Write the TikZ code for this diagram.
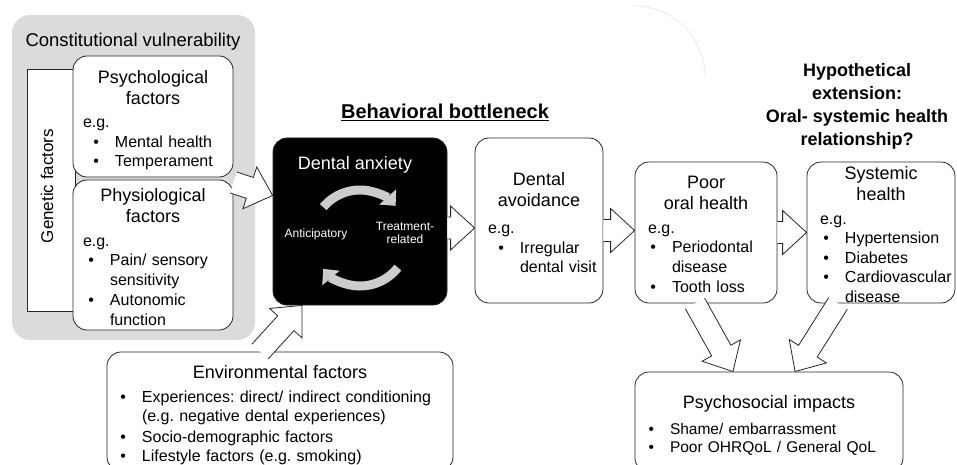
\documentclass[tikz,border=0pt]{standalone}
\usepackage{fontspec}
\setmainfont{Liberation Sans}
\usetikzlibrary{arrows.meta,calc}
\frenchspacing

\newcommand{\hd}[1]{{\centering\fontsize{18}{21}\selectfont #1\par}\vspace{4pt}}
\newcommand{\itm}[2][24pt]{\par\noindent\makebox[#1][r]{\textbullet\hspace{16pt}}\begin{tabular}[t]{@{}l@{}}#2\end{tabular}}
\newcommand{\boxtail}{\par\kern-10pt}
\newcommand{\fatarrow}[2]{%
  \draw[fatarr] let \p1=($(#2)-(#1)$), \n1={atan2(\y1,\x1)}, \n2={veclen(\x1,\y1)} in
    [shift={(#1)}, rotate=\n1] (0pt,-11pt) -- (\n2-24pt,-11pt) -- (\n2-24pt,-22pt) -- (\n2,0pt)
    -- (\n2-24pt,22pt) -- (\n2-24pt,11pt) -- (0pt,11pt);}

\begin{document}
\begin{tikzpicture}[x=1pt, y=-1pt,
    box/.style={draw=black!85, rounded corners=14pt, line width=0.8pt, fill=white, align=left,
      inner xsep=10pt, inner ysep=0pt, font=\fontsize{16}{19.5}\selectfont},
    txtbox/.style={box, execute at end node=\boxtail},
    fatarr/.style={draw=black!85, line width=0.8pt, fill=white, line join=miter},
    cycarr/.style={line width=9pt, draw=black!20, -{Triangle[length=12pt,width=22pt]}},
    wtext/.style={text=white, inner sep=0pt}]
    \useasboundingbox (0,0) rectangle (957,465);
    \draw[black!7, line width=1pt] (634,6) arc[start angle=90, end angle=0, radius=71pt];
    \node[fill=black!14, rounded corners=18pt, minimum width=243pt, minimum height=325pt] (cv) at (133.5,177.5) {};
    \node[font=\fontsize{18.5}{21}\selectfont] (cvt) at (133,42) {Constitutional vulnerability};
    \node[draw=black!85, fill=white, line width=0.8pt, minimum width=48pt, minimum height=242pt] (gen) at (51,190) {};
    \node[rotate=90, font=\fontsize{17}{20}\selectfont] (gent) at (47,186) {Genetic factors};
    \node[txtbox, minimum width=160pt, minimum height=121pt, text width=140pt] (psy) at (153,116.5)
        {\hd{Psychological\\factors}e.g.\itm[32pt]{Mental health}\itm[32pt]{Temperament}};
    \node[txtbox, minimum width=160pt, minimum height=150pt, text width=140pt] (phy) at (153,255)
        {\hd{Physiological\\factors}e.g.\itm[27pt]{Pain/ sensory\\sensitivity}\itm[27pt]{Autonomic\\function}};
    \node[font=\fontsize{20}{24}\selectfont\bfseries] (bott) at (445,112) {\underline{Behavioral bottleneck}};
    \node[box, fill=black, minimum width=174pt, minimum height=167pt] (anx) at (360,221.5) {};
    \node[wtext, font=\fontsize{18}{21}\selectfont] (anxt) at (355,165) {Dental anxiety};
    \node[wtext, font=\fontsize{12}{13}\selectfont] (ant) at (316,234) {Anticipatory};
    \node[wtext, align=center, font=\fontsize{12}{13}\selectfont] (trt) at (405,233) {Treatment-\\related};
    \coordinate (cyc) at (360,238);
    \foreach \a/\b in {140/42, -38/-140}
        \draw[cycarr] ([shift={(\a:48pt)}]cyc) arc[start angle=\a, end angle=\b, radius=48pt];
    \node[txtbox, inner xsep=13pt, minimum width=128pt, minimum height=165pt, text width=102pt] (avd) at (539,220.5)
        {\hd{Dental\\avoidance}\vspace{4pt}e.g.\itm[32pt]{Irregular\\dental visit}};
    \node[txtbox, inner xsep=13pt, minimum width=142pt, minimum height=141pt, text width=116pt] (poh) at (706,232.5)
        {\hd{Poor\\oral health}e.g.\itm[24pt]{Periodontal\\disease}\itm[24pt]{Tooth loss}};
    \node[txtbox, inner xsep=13pt, minimum width=148pt, minimum height=141pt, text width=122pt] (sys) at (881,232.5)
        {\hd{Systemic\\health}e.g.\itm[25pt]{Hypertension}\itm[25pt]{Diabetes}\itm[25pt]{Cardiovascular\\disease}};
    \node[align=center, font=\fontsize{18}{23}\selectfont\bfseries] (hyp) at (857,106)
        {Hypothetical\\extension:\\Oral- systemic health\\relationship?};
    \node[txtbox, minimum width=346pt, minimum height=119pt, text width=326pt] (env) at (280,411.5)
        {\hd{Environmental factors}\itm[25pt]{Experiences: direct/ indirect conditioning\\(e.g. negative dental experiences)}\itm[25pt]{Socio-demographic factors}\itm[25pt]{Lifestyle factors (e.g. smoking)}};
    \node[txtbox, minimum width=268pt, minimum height=100pt, text width=248pt, font=\fontsize{15.5}{18}\selectfont] (psi) at (769,422)
        {\hd{Psychosocial impacts}\vspace{4pt}\itm[25pt]{Shame/ embarrassment}\itm[25pt]{Poor OHRQoL / General QoL}};
    \fatarrow{[yshift=-5pt]psy.south east}{[yshift=26pt]anx.west}
    \fatarrow{[xshift=-20pt]env.north}{[xshift=-58pt]anx.south}
    \fatarrow{[yshift=-6.5pt]anx.east}{[yshift=-7.5pt]avd.west}
    \fatarrow{[yshift=-10pt]avd.east}{[yshift=2pt]poh.west}
    \fatarrow{poh.east}{sys.west}
    \fatarrow{[xshift=-11pt]poh.south}{[xshift=-36pt]psi.north}
    \fatarrow{[xshift=-43pt]sys.south}{[xshift=26pt]psi.north}
\end{tikzpicture}
\end{document}
